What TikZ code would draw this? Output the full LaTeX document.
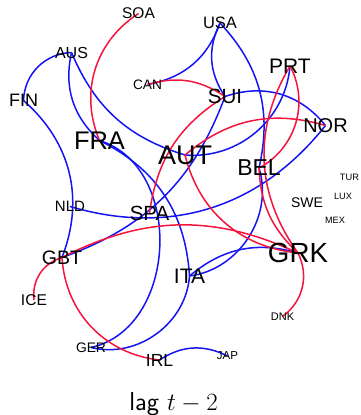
\documentclass[tikz,border=0pt]{standalone}
\usepackage{fontspec}
\setsansfont{Liberation Sans}
\newfontfamily\capfont{Latin Modern Sans}
\definecolor{ered}{RGB}{245,20,60}
\definecolor{eblue}{RGB}{20,20,245}
\pgfdeclarelayer{bg}
\pgfsetlayers{bg,main}
\tikzset{
  lab/.style={font=\sffamily\fontsize{#1}{#1}\selectfont, inner sep=0pt},
  redge/.style={draw=ered, line width=1.5pt},
  bedge/.style={draw=eblue, line width=1.5pt}
}
\begin{document}
\begin{tikzpicture}[x=1pt,y=1pt]
\useasboundingbox (0,0) rectangle (360,415);
% vertices (labels)
\node[lab=15.5] (SOA) at (138.5,401.5) {SOA};
\node[lab=16.5] (USA) at (220,392) {USA};
\node[lab=16]   (AUS) at (71.5,362.5) {AUS};
\node[lab=13.7] (CAN) at (147.5,330.5) {CAN};
\node[lab=21]   (PRT) at (290,349) {PRT};
\node[lab=20.5] (SUI) at (225,318.5) {SUI};
\node[lab=18]   (FIN) at (23.5,314.5) {FIN};
\node[lab=20]   (NOR) at (325.5,289.5) {NOR};
\node[lab=25.5] (FRA) at (99.5,274.5) {FRA};
\node[lab=27]   (AUT) at (185,260) {AUT};
\node[lab=23]   (BEL) at (259,247) {BEL};
\node[lab=9.3]  (TUR) at (349.5,237.5) {TUR};
\node[lab=9.2]  (LUX) at (343,218.5) {LUX};
\node[lab=14]   (SWE) at (307,212.5) {SWE};
\node[lab=9.2]  (MEX) at (335,195) {MEX};
\node[lab=15]   (NLD) at (70,208.5) {NLD};
\node[lab=20.5] (SPA) at (149.5,202) {SPA};
\node[lab=19.5] (GBT) at (62,157.5) {GBT};
\node[lab=27.7] (GRK) at (298,162) {GRK};
\node[lab=21]   (ITA) at (189.5,139) {ITA};
\node[lab=15.6] (ICE) at (34,115) {ICE};
\node[lab=11]   (DNK) at (282.5,98.5) {DNK};
\node[lab=13.8] (GER) at (91,67.5) {GER};
\node[lab=17.5] (IRL) at (159.5,55) {IRL};
\node[lab=11.5] (JAP) at (227.5,59) {JAP};
\node[anchor=base, inner sep=0pt, font=\fontsize{26}{26}\selectfont] (cap) at (173.5,5) {\capfont lag $t-2$};
\begin{pgfonlayer}{bg}
% blue edges
\draw[bedge] (AUS.center) to[bend right=43] (FIN.center);
\draw[bedge] (FIN.center) to[bend left=35] (GBT.center);
\draw[bedge] (AUS.center) to[bend right=30] (FRA.center);
\draw[bedge] (AUS.center) to[bend right=25] (AUT.center);
\draw[bedge] (AUT.center) to[bend right=45] (PRT.center);
\draw[bedge] (SUI.center) to[bend left=35] (NOR.center);
\draw[bedge] (SUI.center) to[bend left=25] (GBT.center);
\draw[bedge] (USA.center) to[bend right=30] (SUI.center);
\draw[bedge] (CAN.center) to[bend right=30] (USA.center);
\draw[bedge] (USA.center) to[bend left=28] (BEL.center);
\draw[bedge] (NLD.center) to[bend right=34] (NOR.center);
\draw[bedge] (BEL.center) to[bend left=50] (ITA.center);
\draw[bedge] (ITA.center) to[bend left=28] (GRK.center);
\draw[bedge] (FRA.center) to[bend left=30] (ITA.center);
\draw[bedge] (FRA.center) to[bend left=75, looseness=1.1] (GER.center);
\draw[bedge] (ITA.center) to[bend left=50] (GER.center);
\draw[bedge] (IRL.center) to[bend left=30] (JAP.center);
% red edges
\draw[redge] (SOA.center) to[bend right=40] (FRA.center);
\draw[redge] (CAN.center) to[bend left=25] (SUI.center);
\draw[redge] (ICE.center) to[bend left=40] (GBT.center);
\draw[redge] (GBT.center) to[bend right=40] (IRL.center);
\draw[redge] (GBT.center) to[bend left=26] (GRK.center);
\draw[redge] (GRK.center) to[bend left=40] (DNK.center);
\draw[redge] (SUI.center) to[bend right=25] (SPA.center);
\draw[redge] (AUT.center) to[bend left=28] (NOR.center);
\draw[redge] (AUT.center) to[bend right=35] (GRK.center);
\draw[redge] (PRT.center) to[bend right=33] (GRK.center);
\draw[redge] (PRT.center) to[bend left=45] (BEL.center);
\draw[redge] (BEL.center) to[bend right=22] (GRK.center);
\end{pgfonlayer}
\end{tikzpicture}
\end{document}
